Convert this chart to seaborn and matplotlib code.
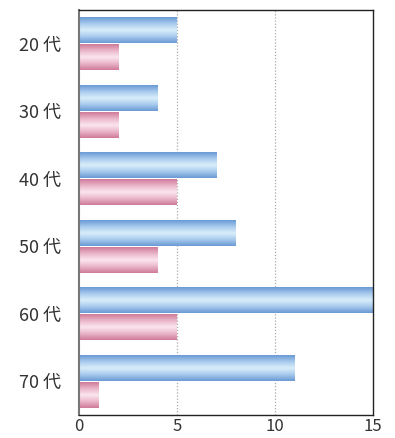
import numpy as np
import pandas as pd
import seaborn as sns
import matplotlib.pyplot as plt
from matplotlib.colors import LinearSegmentedColormap

# data
ages = ['20 代', '30 代', '40 代', '50 代', '60 代', '70 代']
blue_vals = [5, 4, 7, 8, 15, 11]
pink_vals = [2, 2, 5, 4, 5, 1]
series = ['A', 'B']
xticks = [0, 5, 10, 15]

df = pd.DataFrame({
    'age': ages * 2,
    'value': blue_vals + pink_vals,
    'series': [series[0]] * len(ages) + [series[1]] * len(ages),
})

sns.set_theme(style='white')
plt.rcParams['font.family'] = ['Noto Sans CJK JP', 'DejaVu Sans']

fig = plt.figure(figsize=(3.95, 4.38), dpi=100)
ax = fig.add_axes([0.2, 0.053, 0.744, 0.924])

sns.barplot(data=df, x='value', y='age', hue='series', order=ages,
            hue_order=series, orient='h', width=0.8, gap=0.04,
            palette=['#6b9bd6', '#d17f9c'], legend=False, ax=ax)

cmaps = {
    '#6b9bd6': LinearSegmentedColormap.from_list('b', ['#6a9ad5', '#a9cbee', '#d9eefb', '#a9cbee', '#6a9ad5']),
    '#d17f9c': LinearSegmentedColormap.from_list('p', ['#cf7b99', '#eab6c9', '#fbe6ee', '#eab6c9', '#cf7b99']),
}
grad = np.linspace(0, 1, 64).reshape(-1, 1)
n = len(ages)
for i, p in enumerate(ax.patches):
    key = '#6b9bd6' if i < n else '#d17f9c'
    x0, y0 = p.get_x(), p.get_y()
    w, h = p.get_width(), p.get_height()
    if w <= 0:
        continue
    im = ax.imshow(grad, cmap=cmaps[key], aspect='auto',
                   extent=[x0, x0 + w, y0 + h, y0], zorder=2, interpolation='bicubic')
    im.set_clip_path(p)
    p.set_facecolor('none')
    p.set_edgecolor('none')

ax.set_xlim(0, 15)
ax.set_ylim(n - 0.5, -0.5)
ax.set_xticks(xticks)
ax.set_xticklabels([str(t) for t in xticks], fontsize=12, color='#333333')
ax.tick_params(axis='x', length=0, pad=2)
ax.tick_params(axis='y', length=0, pad=13, labelsize=13, labelcolor='#333333')
ax.set_yticks(range(n), ages)
ax.set_yticks(np.arange(n - 1) + 0.5, minor=True)
ax.tick_params(axis='y', which='minor', direction='in', length=6, width=1, color='#444444')
ax.set_xlabel('')
ax.set_ylabel('')

for gx in [5, 10]:
    ax.axvline(gx, color='#aaaaaa', linestyle=(0, (1, 1.5)), linewidth=0.9, zorder=1)

for side in ['top', 'right', 'bottom']:
    ax.spines[side].set_color('#222222')
    ax.spines[side].set_linewidth(1)
ax.spines['left'].set_color('#777777')
ax.spines['left'].set_linewidth(1.5)

fig.savefig('out.png', dpi=100)
